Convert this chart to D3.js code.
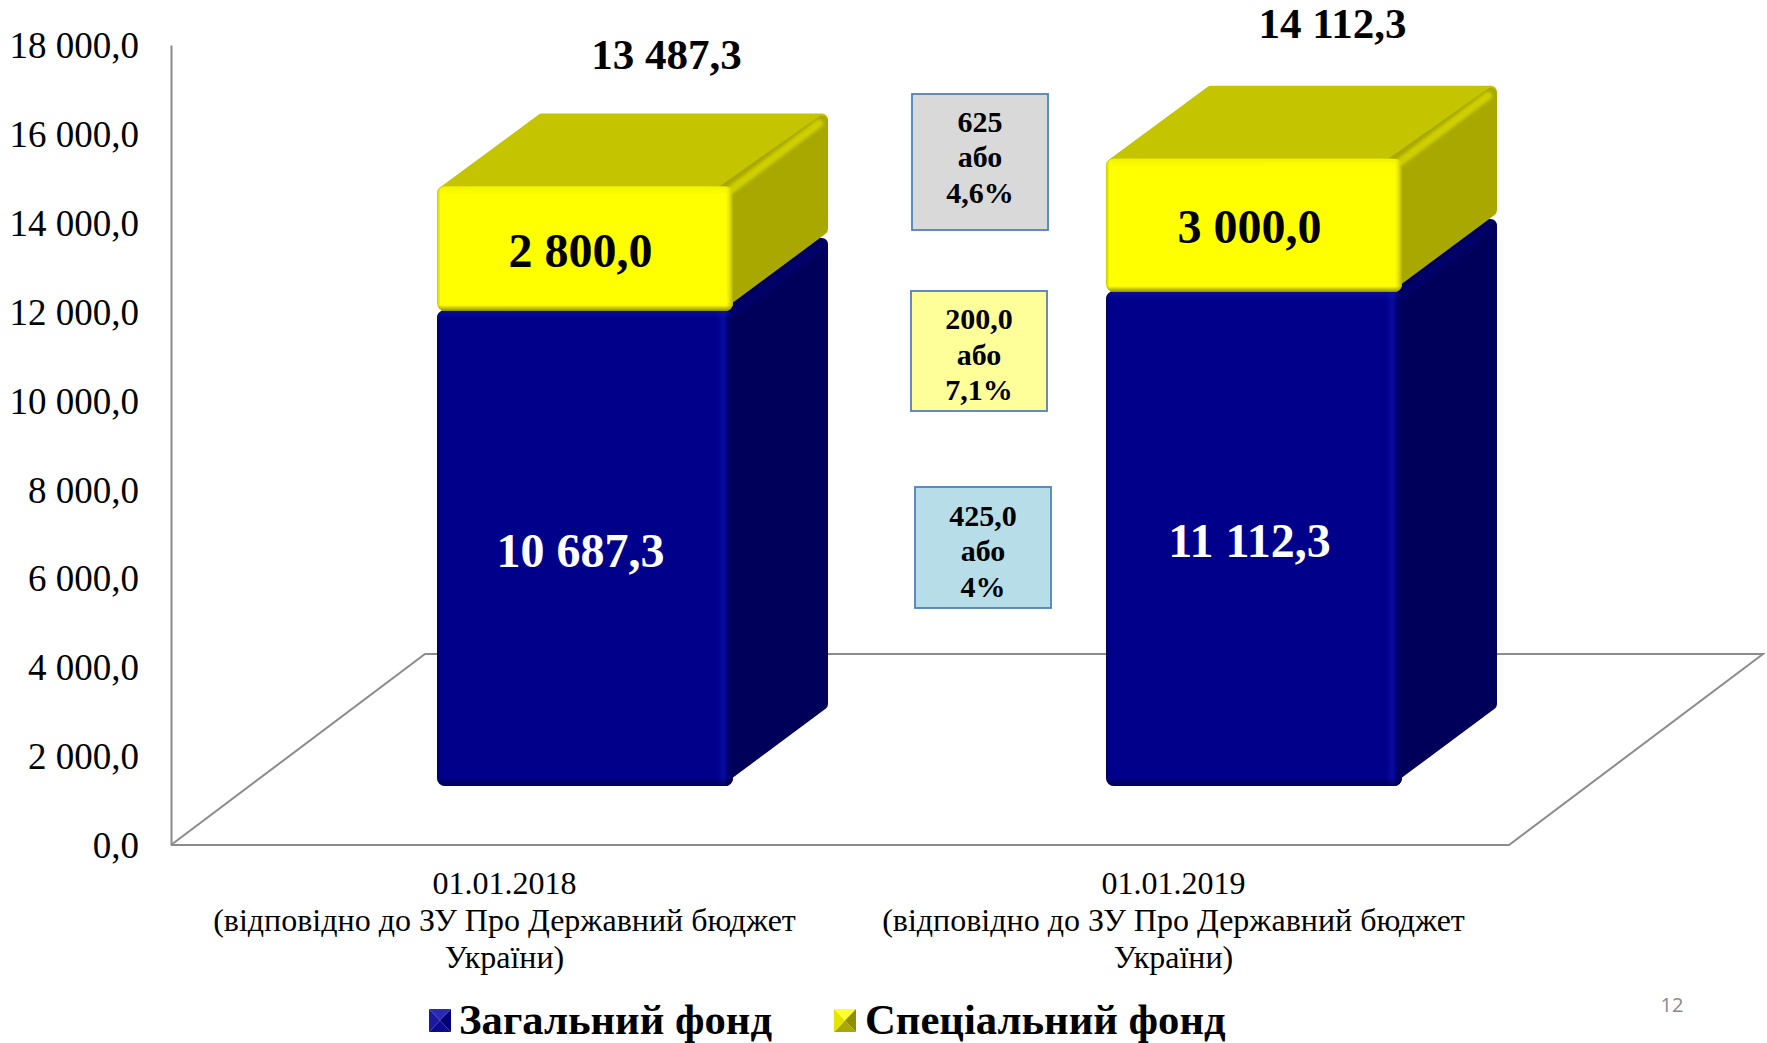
<!DOCTYPE html>
<html><head><meta charset="utf-8">
<script src="https://cdn.jsdelivr.net/npm/d3@7/dist/d3.min.js"></script>
<style>html,body{margin:0;padding:0;background:#fff}svg{display:block}text{font-family:"Liberation Serif","Times New Roman",serif}</style>
</head><body><svg id="c" width="1767" height="1043"></svg>
<script>
const categories = ["01.01.2018", "01.01.2019"];
const categoryNotes = ["(відповідно до ЗУ Про Державний бюджет", "України)"];
const generalFund = [10687.3, 11112.3];
const specialFund = [2800.0, 3000.0];
const totals = [13487.3, 14112.3];
const seriesNames = ["Загальний фонд", "Спеціальний фонд"];
const deltaLines = [["625", "або", "4,6%"], ["200,0", "або", "7,1%"], ["425,0", "або", "4%"]];
const deltaFills = ["#D9D9D9", "#FFFF99", "#B7DDE8"];

const svg = d3.select("#c");
const loc = d3.formatLocale({decimal: ",", thousands: " ", grouping: [3], currency: ["", ""]});
const fmt = loc.format(",.1f");

const y = d3.scaleLinear().domain([0, 18000]).range([845, 45]);
const x = d3.scaleBand().domain(categories).range([171, 1509]);

// perspective offsets
const floorDx = 254, floorDy = 191;
const frontDx = 80, frontDy = -59;
const depthDx = 95, depthDy = -73;
const barW = 296;
const GREY = "#8C8C8C";

const defs = svg.append("defs");
function lin(id, horiz, stops) {
  const g = defs.append("linearGradient").attr("id", id)
    .attr("x1", 0).attr("y1", 0).attr("x2", horiz ? 1 : 0).attr("y2", horiz ? 0 : 1);
  stops.forEach(s => g.append("stop").attr("offset", s[0]).attr("stop-color", s[1]).attr("stop-opacity", s[2]));
}
defs.append("filter").attr("id", "soft").attr("x", "-20%").attr("y", "-20%").attr("width", "140%").attr("height", "140%")
  .append("feGaussianBlur").attr("stdDeviation", 1.6);

// floor + axis
const fy = y(0), fx0 = x.range()[0], fx1 = x.range()[1];
svg.append("path")
  .attr("d", d3.line()([[fx0, fy], [fx0 + floorDx, fy - floorDy], [fx1 + floorDx, fy - floorDy], [fx1, fy], [fx0, fy]]))
  .attr("fill", "none").attr("stroke", GREY).attr("stroke-width", 2);

const axis = d3.axisLeft(y).tickValues(d3.range(0, 18001, 2000)).tickSize(0).tickPadding(0).tickFormat(fmt);
const ag = svg.append("g").attr("transform", `translate(${fx0},0)`).call(axis);
ag.select(".domain").attr("stroke", GREY).attr("stroke-width", 2);
ag.selectAll("text").attr("x", -32).attr("dy", "0.34em").attr("font-size", 37).attr("fill", "#000")
  .style("font-family", '"Liberation Serif",serif');

function rnd(g, pts, fill, r) {
  return g.append("path").attr("d", d3.line()(pts) + "Z").attr("fill", fill)
    .attr("stroke", fill).attr("stroke-width", r).attr("stroke-linejoin", "round");
}

function block(i, v0, v1, pal) {
  const g = svg.append("g");
  const fl = x(categories[i]) + x.bandwidth() / 2 - barW / 2 + frontDx - 0.5;
  const fr = fl + barW;
  const yb = y(v0) + frontDy, yt = y(v1) + frontDy;
  const r = 8, ins = 6;
  rnd(g, [[fl + ins, yt + ins], [fl + depthDx + ins + 4, yt + depthDy + ins], [fr + depthDx - ins, yt + depthDy + ins], [fr - ins, yt + ins]], pal.top, 12);
  rnd(g, [[fr - 12, yt + ins], [fr + depthDx - ins, yt + depthDy + ins + 2], [fr + depthDx - ins, yb + depthDy - 9], [fr - 12, yb - 7]], pal.side, 12);
  // soft ridge between top and side
  g.append("line").attr("x1", fr - 3).attr("y1", yt + 4).attr("x2", fr + depthDx - 9).attr("y2", yt + depthDy + 10)
    .attr("stroke", pal.ridge).attr("stroke-width", 8).attr("stroke-linecap", "round").attr("filter", "url(#soft)");
  const faces = [pal.front, `url(#h${pal.k})`, `url(#v${pal.k}${i})`];
  faces.forEach(f => g.append("rect").attr("x", fl).attr("y", yt).attr("width", barW).attr("height", yb - yt)
    .attr("rx", r).attr("fill", f));
}

const palGeneral = {k: "b", front: "#00008B", top: "#00006E", side: "#00005A", ridge: "#00006A"};
const palSpecial = {k: "y", front: "#FFFF00", top: "#C4C400", side: "#A8A800", ridge: "#CFCF00"};

lin("hb", true, [[0, "#000", 0.35], [0.012, "#000", 0], [0.945, "#0A0AA0", 0], [0.968, "#0A0AA0", 1], [0.985, "#00006E", 1], [1, "#00005A", 1]]);
lin("hy", true, [[0, "#B8B800", 0.7], [0.012, "#B8B800", 0], [0.975, "#E0E000", 0], [1, "#B0B000", 1]]);
categories.forEach((c, i) => {
  const hb = (y(0) - y(generalFund[i]));
  const hy = (y(0) - y(specialFund[i]));
  lin("vb" + i, false, [[0, "#1414AA", 0.55], [8 / hb, "#1414AA", 0], [1 - 8 / hb, "#000", 0], [1, "#000040", 0.6]]);
  lin("vy" + i, false, [[0, "#E6E600", 0.5], [8 / hy, "#E6E600", 0], [1 - 6 / hy, "#808000", 0], [1, "#808000", 0.9]]);
});

categories.forEach((c, i) => {
  block(i, 0, generalFund[i], palGeneral);
  block(i, generalFund[i], totals[i], palSpecial);
});

// value labels
const barCx = i => x(categories[i]) + x.bandwidth() / 2 + 75;
function midLabel(vals, base, fill) {
  svg.append("g").selectAll("text").data(vals).join("text")
    .attr("x", (d, i) => barCx(i))
    .attr("y", (d, i) => (y(base(i)) + y(base(i) + d)) / 2 + frontDy + 18)
    .attr("text-anchor", "middle").attr("font-size", 48).attr("font-weight", "bold").attr("fill", fill)
    .text(d => fmt(d));
}
midLabel(generalFund, () => 0, "#fff");
midLabel(specialFund, i => generalFund[i], "#000");

const totalNudge = [[2, 0], [-1, -3]];
svg.append("g").selectAll("text").data(totals).join("text")
  .attr("x", (d, i) => barCx(i) + 84 + totalNudge[i][0])
  .attr("y", (d, i) => y(d) + frontDy - 118 + totalNudge[i][1])
  .attr("text-anchor", "middle").attr("font-size", 43).attr("font-weight", "bold").attr("fill", "#000")
  .text(d => fmt(d));

// category labels
categories.forEach(c => {
  const cx = x(c) + x.bandwidth() / 2 - 1;
  svg.append("text").attr("x", cx).attr("y", 894).attr("text-anchor", "middle").attr("font-size", 32).text(c);
  categoryNotes.forEach((t, k) => {
    svg.append("text").attr("x", cx).attr("y", 931 + k * 36.5).attr("text-anchor", "middle").attr("font-size", 32).text(t);
  });
});

// delta boxes: x, y, w, h, text shift
const boxPos = [[912, 94, 136, 136, 5], [911, 291, 136, 120, 13.5], [915, 487, 136, 121, 13.5]];
deltaLines.forEach((lines, i) => {
  const b = boxPos[i];
  svg.append("rect").attr("x", b[0]).attr("y", b[1]).attr("width", b[2]).attr("height", b[3])
    .attr("fill", deltaFills[i]).attr("stroke", "#4F81BD").attr("stroke-width", 1.8);
  const tb = b[1] + b[3] / 2;
  svg.append("g").selectAll("text").data(lines).join("text")
    .attr("x", b[0] + b[2] / 2).attr("y", (d, k) => tb + b[4] + (k - 1) * 35.5)
    .attr("text-anchor", "middle").attr("font-size", 30).attr("font-weight", "bold").text(d => d);
});

// legend
const legend = [
  {x: 429, tx: 459, n: seriesNames[0], faces: ["#2A2AB4", "#000070", "#0A0A90", "#1A1AA0"]},
  {x: 834, tx: 865, n: seriesNames[1], faces: ["#FFFF30", "#8F8F00", "#A8A800", "#E4E400"]}
];
const swW = 22, swH = 23, swY = 1009;
legend.forEach(l => {
  const g = svg.append("g").attr("transform", `translate(${l.x},${swY})`);
  const c = [swW / 2, swH / 2];
  const cor = [[0, 0], [swW, 0], [swW, swH], [0, swH]];
  l.faces.forEach((f, k) => {
    g.append("polygon").attr("points", [cor[k], cor[(k + 1) % 4], c].join(" ")).attr("fill", f);
  });
  svg.append("text").attr("x", l.tx).attr("y", 1034).attr("font-size", 42.7).attr("font-weight", "bold").text(l.n);
});

svg.append("text").attr("x", 1672).attr("y", 1012).attr("text-anchor", "middle")
  .attr("font-size", 20).attr("fill", "#8B8B8B").style("font-family", '"Open Sans",sans-serif').text("12");
</script></body></html>
